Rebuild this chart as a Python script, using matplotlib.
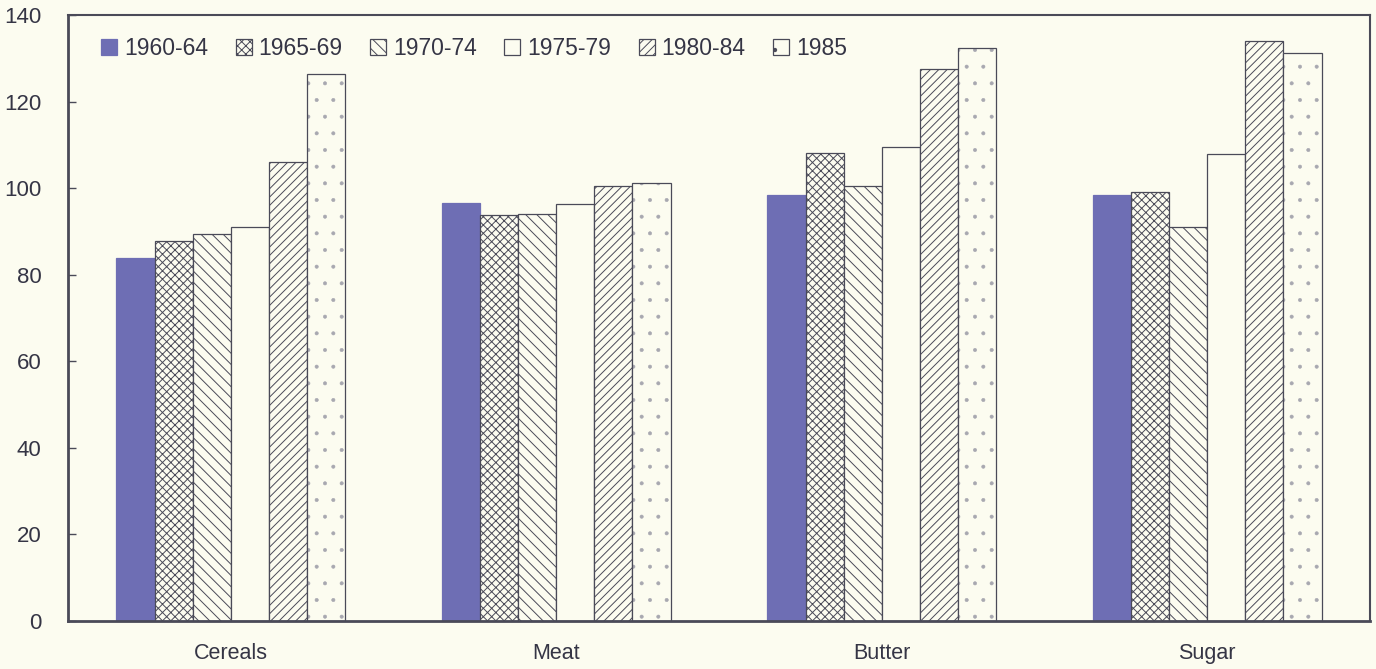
import matplotlib
matplotlib.use("Agg")
import matplotlib.pyplot as plt
from matplotlib.patches import Rectangle
import numpy as np

categories = ["Cereals", "Meat", "Butter", "Sugar"]
periods = ["1960-64", "1965-69", "1970-74", "1975-79", "1980-84", "1985"]
v_1960_64 = [83.8, 96.6, 98.5, 98.5]
v_1965_69 = [87.8, 93.7, 108.1, 99.2]
v_1970_74 = [89.4, 94.0, 100.5, 91.0]
v_1975_79 = [91.1, 96.4, 109.5, 107.9]
v_1980_84 = [106.0, 100.5, 127.6, 133.9]
v_1985 = [126.4, 101.1, 132.3, 131.2]
y_ticks = [0, 20, 40, 60, 80, 100, 120, 140]

series = [v_1960_64, v_1965_69, v_1970_74, v_1975_79, v_1980_84, v_1985]
bg = "#fcfcf0"
ink = "#4a4a58"
txt = "#353545"
purple = "#6e6eb4"
dotc = "#a8a8b0"
fills = [purple, bg, bg, bg, bg, bg]
hatches = [None, "xxxx", "\\\\\\", None, "////", "."]

plt.rcParams["font.family"] = ["Liberation Sans", "DejaVu Sans"]
plt.rcParams["hatch.linewidth"] = 0.7
plt.rcParams["hatch.color"] = ink

fig = plt.figure(figsize=(13.76, 6.69), dpi=100, facecolor=bg)
ax = fig.add_axes([68/1376, 48/669, (1370-68)/1376, (621-15)/669], facecolor=bg)

x = np.arange(len(categories))
w = 0.117
handles = []
for i, (vals, lab) in enumerate(zip(series, periods)):
    off = (i - 2.5) * w
    if hatches[i] == ".":
        with plt.rc_context({"hatch.linewidth": 0.4}):
            ax.bar(x + off, vals, width=w, color=bg, edgecolor=dotc, linewidth=0, hatch=".")
            h = Rectangle((0, 0), 1, 1, facecolor=bg, edgecolor=ink, linewidth=0.9, hatch=".")
        ax.bar(x + off, vals, width=w, fill=False, edgecolor=ink, linewidth=0.9)
        handles.append(h)
    else:
        ax.bar(x + off, vals, width=w, color=fills[i], edgecolor=ink if i > 0 else purple,
               linewidth=0.9, hatch=hatches[i])
        handles.append(Rectangle((0, 0), 1, 1, facecolor=fills[i],
                                 edgecolor=ink if i > 0 else purple, linewidth=0.9,
                                 hatch=hatches[i]))

ax.set_xlim(-0.5, 3.5)
ax.set_ylim(0, 139.8)
ax.set_yticks(y_ticks)
ax.set_yticklabels([str(t) for t in y_ticks], fontsize=16, color=txt)
ax.set_xticks(x)
ax.set_xticklabels(categories, fontsize=15.5, color=txt)
ax.tick_params(axis="x", length=0, pad=16)
ax.tick_params(axis="y", direction="in", length=6, width=1, color=ink, pad=19)
for s in ["left", "bottom", "top", "right"]:
    ax.spines[s].set_color(ink)
ax.spines["left"].set_linewidth(2)
ax.spines["bottom"].set_linewidth(2)
ax.spines["top"].set_linewidth(1.5)
ax.spines["right"].set_linewidth(1.5)

leg = ax.legend(handles, periods, loc="upper left", bbox_to_anchor=(0.022, 0.972), ncol=6,
                frameon=False, fontsize=16.5, handlelength=0.7, handleheight=0.7,
                handletextpad=0.3, columnspacing=1.2, labelcolor=txt,
                borderaxespad=0, borderpad=0.2)

fig.savefig("out.png", dpi=100, facecolor=bg)
